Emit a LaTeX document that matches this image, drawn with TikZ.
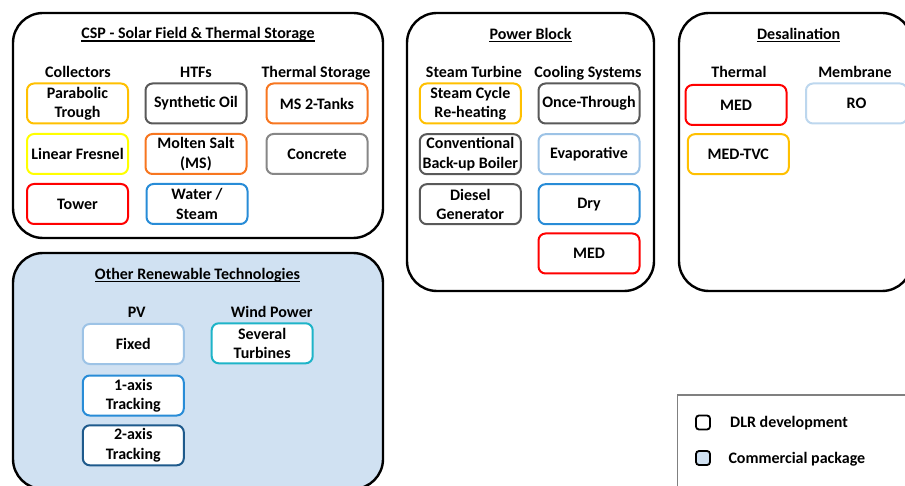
\documentclass[tikz,border=0pt]{standalone}
\usepackage{fontspec}
\setmainfont{Carlito}
\definecolor{cgold}{RGB}{255,192,0}
\definecolor{cyellow}{RGB}{255,255,0}
\definecolor{cred}{RGB}{255,0,0}
\definecolor{cdark}{RGB}{89,89,89}
\definecolor{cgrey}{RGB}{135,135,135}
\definecolor{corange}{RGB}{247,118,32}
\definecolor{cblue}{RGB}{40,140,215}
\definecolor{clight}{RGB}{157,195,230}
\definecolor{cpale}{RGB}{189,215,238}
\definecolor{cnavy}{RGB}{30,90,140}
\definecolor{cteal}{RGB}{30,180,200}
\definecolor{cfill}{RGB}{208,225,242}
\begin{document}
\begin{tikzpicture}[x=1pt,y=-1pt,
  txt/.style={font=\bfseries\fontsize{16}{19.5}\selectfont},
  panel/.style={draw=black, line width=2.4pt, rounded corners=30pt},
  item/.style={txt, draw, line width=2pt, rounded corners=7pt,
    minimum width=101pt, minimum height=40pt, align=center,
    inner sep=1pt, fill=white},
  head/.style={txt, anchor=base, inner sep=0pt},
  title/.style={txt, anchor=base, inner sep=0pt},
  uline/.style={line width=1.2pt},
  keybox/.style={draw=black, line width=1.8pt, rounded corners=3pt,
    minimum width=14pt, minimum height=14pt, inner sep=0pt}]
\useasboundingbox (0,0) rectangle (905,486);
\clip (0,0) rectangle (905,486);

% ---------- panels ----------
\draw[panel] (13,13) rectangle (383,238);
\draw[panel] (407,13) rectangle (654,291);
\draw[panel] (679,13) rectangle (912,291);
\draw[panel, fill=cfill] (13,253) rectangle (383,489);

% ---------- CSP ----------
\node[title] (tcsp) at (198,39) {CSP - Solar Field \& Thermal Storage};
\draw[uline] ([yshift=-2pt]tcsp.base west) -- ([yshift=-2pt]tcsp.base east);
\node[head] (hcol) at (78,77.5) {Collectors};
\node[head] (hhtf) at (196,77.5) {HTFs};
\node[head] (hsto) at (316,77.5) {Thermal Storage};

\node[item, draw=cgold]   (pt)  at (77.5,103.5)  {Parabolic\\Trough};
\node[item, draw=cyellow] (lf)  at (77.5,154){Linear Fresnel};
\node[item, draw=cred]    (tw)  at (77.5,204){Tower};
\node[item, draw=cdark]   (so)  at (196,103.5)   {Synthetic Oil};
\node[item, draw=corange] (ms)  at (196,154) {Molten Salt\\(MS)};
\node[item, draw=cblue]   (ws)  at (197,204) {Water /\\Steam};
\node[item, draw=corange] (mst) at (317,103.5)   {MS 2-Tanks};
\node[item, draw=cgrey]   (cc)  at (317,154) {Concrete};

% ---------- Power Block ----------
\node[title] (tpb) at (530.5,39.5) {Power Block};
\draw[uline] ([yshift=-2pt]tpb.base west) -- ([yshift=-2pt]tpb.base east);
\node[head] (hst) at (474,77.5) {Steam Turbine};
\node[head] (hcs) at (588,77.5) {Cooling Systems};

\node[item, draw=cgold] (scr) at (470.3,103.5)   {Steam Cycle\\Re-heating};
\node[item, draw=cdark] (cbb) at (470.3,154.2) {Conventional\\Back-up Boiler};
\node[item, draw=cdark] (dg)  at (470.3,204.2) {Diesel\\Generator};
\node[item, draw=cdark]  (ot)  at (589,103.5)   {Once-Through};
\node[item, draw=clight] (ev)  at (589,154.2) {Evaporative};
\node[item, draw=cblue]  (dry) at (589,204.2) {Dry};
\node[item, draw=cred]   (med) at (589,253.5)   {MED};

% ---------- Desalination ----------
\node[title] (tde) at (798.7,39.5) {Desalination};
\draw[uline] ([yshift=-2pt]tde.base west) -- ([yshift=-2pt]tde.base east);
\node[head] (hth) at (739,77.5) {Thermal};
\node[head] (hmb) at (855,77.5) {Membrane};

\node[item, draw=cred]  (dmed) at (736,105)   {MED};
\node[item, draw=cgold] (dtvc) at (738.3,154.2) {MED-TVC};
\node[item, draw=cpale] (ro)   at (856.5,103.5)   {RO};

% ---------- Other renewables ----------
\node[title] (tor) at (197.5,279.8) {Other Renewable Technologies};
\draw[uline] ([yshift=-2pt]tor.base west) -- ([yshift=-2pt]tor.base east);
\node[head] (hpv) at (136.7,317.8) {PV};
\node[head] (hwp) at (271.7,317.8) {Wind Power};

\node[item, draw=clight] (fx)  at (133.3,344) {Fixed};
\node[item, draw=cblue]  (a1)  at (133.3,395.5)   {1-axis\\Tracking};
\node[item, draw=cnavy]  (a2)  at (133.3,445.3) {2-axis\\Tracking};
\node[item, draw=cteal]  (wt)  at (262.2,343.3) {Several\\Turbines};

% ---------- legend ----------
\draw[draw=gray, line width=1.3pt] (677.5,395) rectangle (930,510);
\node[keybox, fill=white] (k1) at (703,422.5) {};
\node[keybox, fill=cfill] (k2) at (703,458) {};
\node[txt, anchor=base west, inner sep=0pt] (l1) at (730,427.8) {DLR development};
\node[txt, anchor=base west, inner sep=0pt] (l2) at (728.3,463) {Commercial package};
\end{tikzpicture}
\end{document}
